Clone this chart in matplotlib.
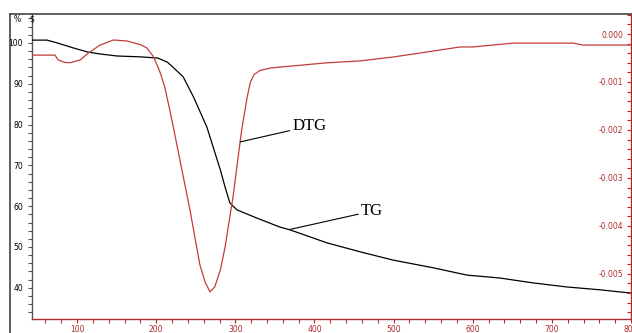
import matplotlib
matplotlib.use("Agg")
import matplotlib.pyplot as plt
from matplotlib.ticker import MultipleLocator, FixedLocator
from matplotlib.lines import Line2D

# Thermogravimetric curve: mass (%) against temperature (°C)
tg_temp = [43, 62, 75, 95, 113, 129, 151, 180, 202, 214, 221, 234, 247, 264,
           281, 287, 293, 302, 327, 356, 369, 416, 458, 499, 550, 593, 634,
           676, 719, 761, 800]
tg_mass = [100.7, 100.7, 100.0, 98.8, 97.8, 97.3, 96.8, 96.6, 96.3, 95.3,
           94.1, 91.7, 86.8, 79.4, 68.9, 64.7, 60.8, 59.1, 57.1, 54.9, 54.2,
           51.0, 48.8, 46.8, 44.9, 43.1, 42.4, 41.2, 40.2, 39.5, 38.7]

# Derivative curve (DTG) against temperature (°C)
dtg_temp = [43, 72, 76, 84, 91, 104, 114, 129, 146, 163, 180, 188, 196, 202,
            206, 211, 218, 226, 232, 236, 243, 249, 255, 262, 268, 274, 281,
            287, 291, 297, 303, 306, 308, 315, 319, 324, 331, 344, 356, 416,
            458, 499, 542, 584, 600, 651, 727, 739, 800]
dtg_rate = [-0.00044, -0.00044, -0.00054, -0.00059, -0.00060, -0.00054,
            -0.00040, -0.00023, -0.000125, -0.000146, -0.00022, -0.00029,
            -0.00046, -0.00068, -0.00085, -0.00112, -0.00165, -0.00230,
            -0.00280, -0.00312, -0.00370, -0.00425, -0.00480, -0.00518,
            -0.005375, -0.00527, -0.00492, -0.00444, -0.00402, -0.00340,
            -0.00263, -0.00225, -0.00200, -0.00131, -0.00100, -0.00084,
            -0.00076, -0.00071, -0.00069, -0.00060, -0.00056, -0.00048,
            -0.000375, -0.00027, -0.00027, -0.00019, -0.00019, -0.00023,
            -0.00023]

x_ticks = [100, 200, 300, 400, 500, 600, 700, 800]
left_ticks = [40, 50, 60, 70, 80, 90, 100]
right_ticks = [0.000, -0.001, -0.002, -0.003, -0.004, -0.005]

W, H = 632, 333
RED_AXIS = "#b02a2a"
RED_LINE = "#c23d3a"
GRAY = "#555555"
tick_font = {"family": "DejaVu Sans", "size": 5.5}

fig = plt.figure(figsize=(W / 100, H / 100), dpi=100)
fig.patch.set_facecolor("white")

ax = fig.add_axes([32 / W, 1 - 319 / H, (631 - 32) / W, (319 - 14) / H])
ax2 = ax.twinx()

# TG curve on the left axis
ax.plot(tg_temp, tg_mass, color="black", lw=0.9, zorder=3)
ax.set_xlim(43, 800)
ax.set_ylim(32.35, 107.1)

# DTG curve on the right axis
ax2.plot(dtg_temp, dtg_rate, color=RED_LINE, lw=0.9, zorder=3)
ax2.set_ylim(-0.00594, 0.000417)

# spines
for s in ("top", "right"):
    ax.spines[s].set_visible(False)
ax.spines["left"].set_color(GRAY)
ax.spines["left"].set_linewidth(1.0)
ax.spines["bottom"].set_color(RED_AXIS)
ax.spines["bottom"].set_linewidth(1.0)
for s in ("top", "left", "bottom"):
    ax2.spines[s].set_visible(False)
ax2.spines["right"].set_color(RED_AXIS)
ax2.spines["right"].set_linewidth(1.0)

# x axis
ax.xaxis.set_major_locator(FixedLocator(x_ticks))
ax.xaxis.set_minor_locator(MultipleLocator(20))
ax.set_xticklabels([str(v) for v in x_ticks], fontdict=tick_font, color=RED_AXIS)
ax.tick_params(axis="x", which="both", direction="out", length=3, width=0.8,
               color=RED_AXIS, pad=1.5)

# left y axis
ax.yaxis.set_major_locator(FixedLocator(left_ticks))
ax.yaxis.set_minor_locator(MultipleLocator(2))
ax.set_yticklabels([str(v) for v in left_ticks], fontdict=tick_font, color="black")
ax.tick_params(axis="y", which="both", direction="out", length=3, width=0.8,
               color=GRAY, pad=3.5)

# right y axis, labels drawn inside the frame
ax2.yaxis.set_major_locator(FixedLocator(right_ticks))
ax2.yaxis.set_minor_locator(MultipleLocator(0.0002))
ax2.set_yticklabels([f"{v:.3f}" for v in right_ticks], fontdict=tick_font,
                    color=RED_AXIS)
ax2.tick_params(axis="y", which="both", direction="in", length=3, width=0.8,
                color=RED_AXIS, pad=-5.5)
for lbl in ax2.get_yticklabels():
    lbl.set_horizontalalignment("right")

# unit marks at the top of the left axis
fig.text(17 / W, 1 - 19 / H, "%", fontsize=5.5, color="black",
         ha="center", va="center")
fig.text(32 / W, 1 - 19 / H, "$", fontsize=5.5, color="black",
         ha="center", va="center")

# curve labels with leader lines
ax2.annotate("DTG", xy=(306, -0.00225), xytext=(372, -0.00192),
             fontsize=12, family="Liberation Serif", ha="left", va="center",
             arrowprops=dict(arrowstyle="-", color="black", lw=0.8,
                             shrinkA=0, shrinkB=0))
ax.annotate("TG", xy=(369, 54.3), xytext=(459, 58.8),
            fontsize=12, family="Liberation Serif", ha="left", va="center",
            arrowprops=dict(arrowstyle="-", color="black", lw=0.8,
                            shrinkA=0, shrinkB=0))

# outer frame
fig.add_artist(Line2D([10 / W, 1], [1 - 14 / H, 1 - 14 / H],
                      transform=fig.transFigure, color="#444444", lw=1.2))
fig.add_artist(Line2D([10 / W, 10 / W], [0, 1 - 14 / H],
                      transform=fig.transFigure, color="#444444", lw=1.2))

fig.savefig("out.png", dpi=100, facecolor="white")
